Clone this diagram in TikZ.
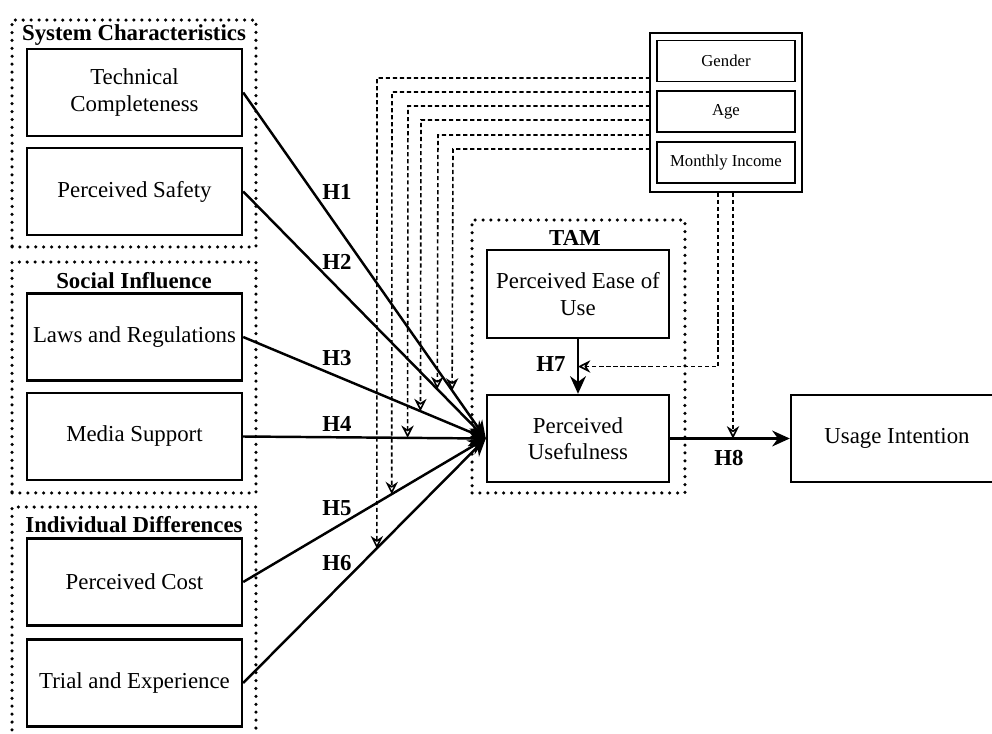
\documentclass[tikz,border=0pt]{standalone}
\usepackage{fontspec}
\setmainfont{Liberation Serif}
\usetikzlibrary{arrows.meta,calc}

\begin{document}
\begin{tikzpicture}[x=0.02cm,y=-0.02cm,
  box/.style={draw,line width=1.4pt,minimum width=4.3cm,minimum height=1.74cm,align=center,inner sep=0pt,font=\fontsize{13}{15}\selectfont},
  group/.style={draw,line width=2pt,dash pattern=on 0pt off 4.5pt,line cap=round,inner sep=0pt},
  grptitle/.style={font=\bfseries\fontsize{13}{15}\selectfont,inner sep=0pt},
  modbox/.style={draw,line width=1pt,minimum width=2.76cm,minimum height=0.82cm,inner sep=0pt,font=\fontsize{9.5}{11}\selectfont},
  hyp/.style={line width=1.4pt,-{Stealth[length=10pt,width=9pt]}},
  hlabel/.style={font=\bfseries\fontsize{13}{15}\selectfont,inner sep=0pt},
  modline/.style={line width=0.9pt,dash pattern=on 2.4pt off 1.6pt,-{Stealth[length=7pt,width=7pt,open]}}]
\clip (0,0) rectangle (992,734);
% System Characteristics
\node[group,minimum width=4.88cm,minimum height=4.54cm] (gsc) at (134,133.5) {};
\node[grptitle] (tsc) at (134,35) {System Characteristics};
\node[box] (tc) at (134.5,92.5) {Technical\\Completeness};
\node[box] (ps) at (134.5,191.5) {Perceived Safety};
% Social Influence
\node[group,minimum width=4.88cm,minimum height=4.62cm] (gsi) at (134,377.5) {};
\node[grptitle] (tsi) at (134,281) {Social Influence};
\node[box] (lr) at (134.5,337) {Laws and Regulations};
\node[box] (ms) at (134.5,436.5) {Media Support};
% Individual Differences
\node[group,minimum width=4.88cm,minimum height=4.76cm] (gid) at (134,626) {};
\node[grptitle] (tid) at (134,525) {Individual Differences};
\node[box] (pc) at (134.5,582) {Perceived Cost};
\node[box] (te) at (134.5,683) {Trial and Experience};
% TAM
\node[group,minimum width=4.26cm,minimum height=5.46cm] (gtam) at (578.5,356.5) {};
\node[grptitle] (ttam) at (575,238) {TAM};
\node[box,minimum width=3.64cm,minimum height=1.76cm] (peu) at (578,294) {Perceived Ease of\\Use};
\node[box,minimum width=3.64cm] (pu) at (578,438.5) {Perceived\\Usefulness};
% Usage Intention
\node[box,minimum width=4.24cm] (ui) at (897,438.5) {Usage Intention};
% Moderators
\node[draw,line width=1pt,minimum width=3.04cm,minimum height=3.18cm] (mod) at (726,112.5) {};
\node[modbox] (gen) at (726,61) {Gender};
\node[modbox] (age) at (726,111.5) {Age};
\node[modbox] (inc) at (726,162.5) {Monthly Income};
% Hypotheses
\draw[hyp] (tc.east) -- (pu.west);
\draw[hyp] (ps.east) -- (pu.west);
\draw[hyp] (lr.east) -- (pu.west);
\draw[hyp] (ms.east) -- (pu.west);
\draw[hyp] (pc.east) -- (pu.west);
\draw[hyp] (te.east) -- (pu.west);
\draw[hyp] (peu.south) -- (pu.north);
\draw[hyp] (pu.east) -- (ui.west);
\node[hlabel] (h1) at (337,192) {H1};
\node[hlabel] (h2) at (337,262) {H2};
\node[hlabel] (h3) at (337,358) {H3};
\node[hlabel] (h4) at (337,424) {H4};
\node[hlabel] (h5) at (337,508) {H5};
\node[hlabel] (h6) at (337,563) {H6};
\node[hlabel] (h7) at (551,364) {H7};
\node[hlabel] (h8) at (729,458) {H8};
% moderating lines
\foreach \yy/\xx/\src [count=\i] in {78/377/te,92/392/pc,106/408/ms,120/421/lr,135/438/ps,149/453/tc}{
  \coordinate (ma\i) at (650,\yy);
  \coordinate (mb\i) at (\xx,\yy);
  \draw[modline] (ma\i) -- (mb\i) -- ($(\src.east)!{(\xx-242)/245}!(pu.west)$);
}
\draw[modline] ([xshift=-0.16cm]mod.south) |- ($(peu.south)!0.5!(pu.north)$);
\draw[modline] ([xshift=0.14cm]mod.south) coordinate (m8) -- (m8 |- pu.east);
\end{tikzpicture}
\end{document}
